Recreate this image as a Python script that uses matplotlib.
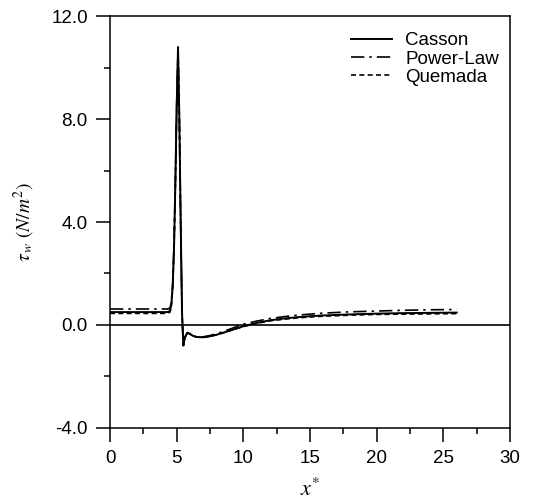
import matplotlib
matplotlib.use('Agg')
import matplotlib.pyplot as plt
from matplotlib.ticker import MultipleLocator, FormatStrFormatter

plt.rcParams['font.family'] = ['Liberation Sans', 'DejaVu Sans']
plt.rcParams['mathtext.fontset'] = 'stix'
plt.rcParams['axes.unicode_minus'] = False

# wall shear stress along the vessel
x = [0, 1, 2, 3, 4, 4.3, 4.5, 4.6, 4.7, 4.8, 4.9, 5.0, 5.1, 5.2, 5.3, 5.4,
     5.5, 5.6, 5.8, 6.0, 6.2, 6.5, 7.0, 7.5, 8, 9, 10, 11, 12, 13, 14, 15,
     16, 18, 20, 22, 24, 26]
casson = [0.5, 0.5, 0.5, 0.5, 0.5, 0.5, 0.55, 0.8, 1.5, 3.0, 5.5, 8.5, 10.8,
          8.0, 4.0, 0.5, -0.8, -0.5, -0.3, -0.35, -0.42, -0.47, -0.48, -0.44,
          -0.38, -0.22, -0.05, 0.08, 0.18, 0.25, 0.3, 0.34, 0.37, 0.41, 0.44,
          0.46, 0.47, 0.48]
power_law = [0.62, 0.62, 0.62, 0.62, 0.62, 0.62, 0.66, 0.9, 1.6, 3.1, 5.6,
             8.6, 10.7, 7.9, 3.9, 0.4, -0.85, -0.5, -0.3, -0.35, -0.42, -0.46,
             -0.46, -0.41, -0.34, -0.16, 0.03, 0.15, 0.25, 0.32, 0.38, 0.42,
             0.46, 0.51, 0.54, 0.57, 0.59, 0.6]
quemada = [0.45, 0.45, 0.45, 0.45, 0.45, 0.45, 0.5, 0.75, 1.45, 2.9, 5.4,
           8.4, 10.7, 8.0, 4.0, 0.5, -0.8, -0.5, -0.3, -0.35, -0.42, -0.47,
           -0.48, -0.44, -0.38, -0.22, -0.06, 0.06, 0.16, 0.22, 0.27, 0.31,
           0.34, 0.38, 0.41, 0.42, 0.43, 0.44]

fig = plt.figure(figsize=(5.38, 5.04), dpi=100)
ax = fig.add_axes([0.2045, 0.151, 0.7435, 0.817])

ax.plot(x, casson, color='black', lw=1.4, ls='-', label='Casson')
ax.plot(x, power_law, color='black', lw=1.2, ls=(0, (8, 3, 1.5, 3)), label='Power-Law')
ax.plot(x, quemada, color='black', lw=1.2, ls=(0, (3, 2)), label='Quemada')
ax.axhline(0, color='black', lw=1.2)

ax.set_xlim(0, 30)
ax.set_ylim(-4, 12)
ax.xaxis.set_major_locator(MultipleLocator(5))
ax.xaxis.set_minor_locator(MultipleLocator(2.5))
ax.yaxis.set_major_locator(MultipleLocator(4))
ax.yaxis.set_minor_locator(MultipleLocator(2))
ax.yaxis.set_major_formatter(FormatStrFormatter('%.1f'))
ax.tick_params(which='major', direction='out', length=10, width=1.1,
               labelsize=13.5, colors='black', pad=6)
ax.tick_params(which='minor', direction='out', length=4.5, width=1.1)
for s in ax.spines.values():
    s.set_linewidth(1.1)

ax.set_xlabel(r'$x^{*}$', fontsize=16, labelpad=8)
ax.set_ylabel(r'$\tau_{\,w}\ (N/m^2)$', fontsize=14, labelpad=10)

ax.legend(loc='upper right', bbox_to_anchor=(1.0, 0.988), frameon=False,
          fontsize=13.5, handlelength=2.2, handletextpad=0.7,
          labelspacing=0.05, borderaxespad=0.3, borderpad=0.3)

fig.savefig('out.png', dpi=100)
